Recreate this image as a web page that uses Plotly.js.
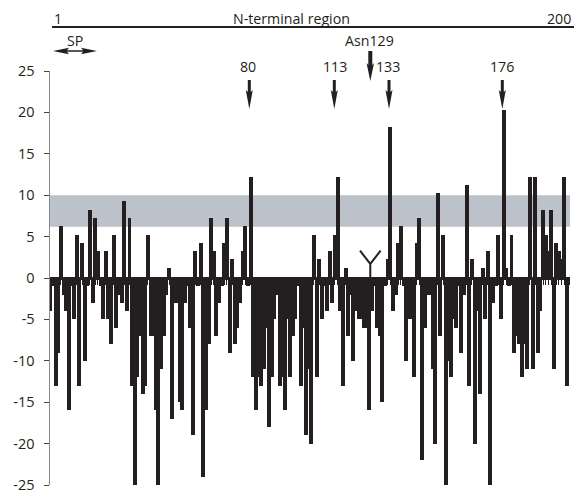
<!DOCTYPE html>
<html>
<head>
<meta charset="utf-8">
<script src="https://cdn.plot.ly/plotly-3.0.1.min.js"></script>
<style>html,body{margin:0;padding:0;background:#fff}</style>
</head>
<body>
<div id="chart" style="width:576px;height:497px"></div>
<script>
const firstResidue = 4;
const values = [
 -4,-1,-13,-9,6.25,-2,-4,-16,-1,-5,5.25,-13,4.25,-10,-1,8.25,-3,7.25,3.25,-1,
 -5,3.25,-5,-8,5.25,-6,-2,-3,9.25,-4,7.25,-13,-25,-12,-7,-14,-13,5.25,-7,-7,
 -16,-25,-11,-7,-2,1.25,-17,-3,-3,-15,-16,-3,-1,-6,-19,3.25,-1,4.25,-24,-16,
 -8,7.25,3.25,-7,-3,-1,4.25,7.25,-9,2.25,-8,-6,-3,3.25,6.25,-1,12.25,-12,-16,-12,
 -13,-11,-6,-18,-12,-5,-2,-13,-12,-16,-5,-12,-7,-5,-1,-13,-6,-19,-11,-20,
 5.25,-12,2.25,-5,-1,-4,3.25,-3,5.25,12.25,-4,-13,1.25,-7,-2,-10,-4,-5,-5,-6,
 -6,-16,-4,-1,-6,-7,-15,-1,2.25,18.25,-4,-2,4.25,6.25,-1,-10,-5,-5,-12,4.25,
 7.25,-22,-6,-2,-2,-11,-20,10.25,-7,5.25,-25,-10,-12,-5,-6,-1,-9,-2,11.25,-13,
 2.25,-20,-4,-14,1.25,-5,3.25,-25,-3,-1,5.25,-5,20.25,1.25,-1,5.25,-9,-7,-8,-12,
 -8,-11,12.25,-11,12.25,-9,-4,8.25,5.25,3.25,8.25,-11,4.25,3.25,2.25,12.25,-13
];
const yTickValues = [25,20,15,10,5,0,-5,-10,-15,-20,-25];
const yTickLabels = ['25','20','15','10','5','0','-5','-10','-15','-20','-25'];
const bandRange = [6.2, 10];
const markedLabels = ['80','113','133','176'];
const markedLabelPx = [248,334.5,388,502];
const markedArrowPx = [249.3,334.3,389,502.3];
const glycanX = [121.5,125.4,129.3,125.4,125.4];
const glycanY = [3.3,1.7,3.3,1.7,0];
const ink = '#231f20';
const font = {family:'"Open Sans","Noto Sans",sans-serif', size:14.2, color:ink};

// pixel helpers for the page furniture (labels, arrows, top rule)
const px = v => (v-50)/520;
const py = v => (485-v)/414;
const label = (text, x, y) => ({text, xref:'paper', yref:'paper', x:px(x), y:py(y), xanchor:'center', yanchor:'middle', showarrow:false, font});
const annotations = [
  label('1',58,18.5), label('N-terminal region',291,18.5), label('200',559,18.5),
  label('SP',75,40.5), label('Asn129',369.5,41)
];
markedLabels.forEach((t,i) => annotations.push(label(t, markedLabelPx[i], 67)));

const downArrow = (x, top, tip, headLen, headW, shaftW) => {
  const back = tip-headLen, notch = back+2;
  const pts = [[x-shaftW/2,top],[x+shaftW/2,top],[x+shaftW/2,notch],[x+headW/2,back],[x,tip],[x-headW/2,back],[x-shaftW/2,notch]];
  return 'M'+pts.map(p=>px(p[0])+' '+py(p[1])).join('L')+'Z';
};
const sideArrow = (x0, x1, y, headLen, headW, shaftH) => {
  const pts = [[x0,y],[x0+headLen,y-headW/2],[x0+headLen-2,y-shaftH/2],[x1-headLen+2,y-shaftH/2],[x1-headLen,y-headW/2],[x1,y],
               [x1-headLen,y+headW/2],[x1-headLen+2,y+shaftH/2],[x0+headLen-2,y+shaftH/2],[x0+headLen,y+headW/2]];
  return 'M'+pts.map(p=>px(p[0])+' '+py(p[1])).join('L')+'Z';
};
const pathShape = d => ({type:'path', xref:'paper', yref:'paper', path:d, fillcolor:ink, line:{width:0}});

const shapes = [
  {type:'rect', xref:'paper', yref:'y', x0:0, x1:1, y0:bandRange[0], y1:bandRange[1], fillcolor:'#bcc2ca', line:{width:0}, layer:'below'},
  {type:'line', xref:'paper', yref:'paper', x0:px(52), x1:px(574), y0:py(27), y1:py(27), line:{color:ink, width:2}},
  pathShape(downArrow(370.3,51,81,18,7.5,4)),
  pathShape(sideArrow(53,97,51,16,6.5,1.5))
];
markedArrowPx.forEach(x => shapes.push(pathShape(downArrow(x,80,109,19,7,3))));

const traces = [
  {type:'bar', x0:firstResidue, dx:1, y:values, width:1.5, marker:{color:ink, line:{width:0}}, hoverinfo:'x+y', showlegend:false},
  {type:'scatter', mode:'lines', x:glycanX, y:glycanY, line:{color:ink, width:2}, hoverinfo:'skip', showlegend:false}
];

const layout = {
  width:576, height:497,
  margin:{l:50, r:6, t:71, b:12},
  paper_bgcolor:'#fff', plot_bgcolor:'#fff',
  showlegend:false, bargap:0,
  xaxis:{range:[3.83,201.2], anchor:'free', position:0.5, showgrid:false, zeroline:false,
         showline:true, linecolor:ink, linewidth:3, ticks:'outside', ticklen:5, tickwidth:1, tickcolor:ink,
         tickmode:'linear', tick0:0, dtick:1, showticklabels:false},
  yaxis:{range:[-25,25], showgrid:false, zeroline:false, showline:true, linecolor:'#8a8a8c', linewidth:1.5,
         ticks:'outside', ticklen:5, tickwidth:1, tickcolor:'#444',
         tickmode:'array', tickvals:yTickValues, ticktext:yTickLabels, ticklabelstandoff:6, tickfont:{...font, size:14.5}},
  shapes, annotations
};
Plotly.newPlot('chart', traces, layout, {staticPlot:true, displayModeBar:false});
</script>
</body>
</html>
